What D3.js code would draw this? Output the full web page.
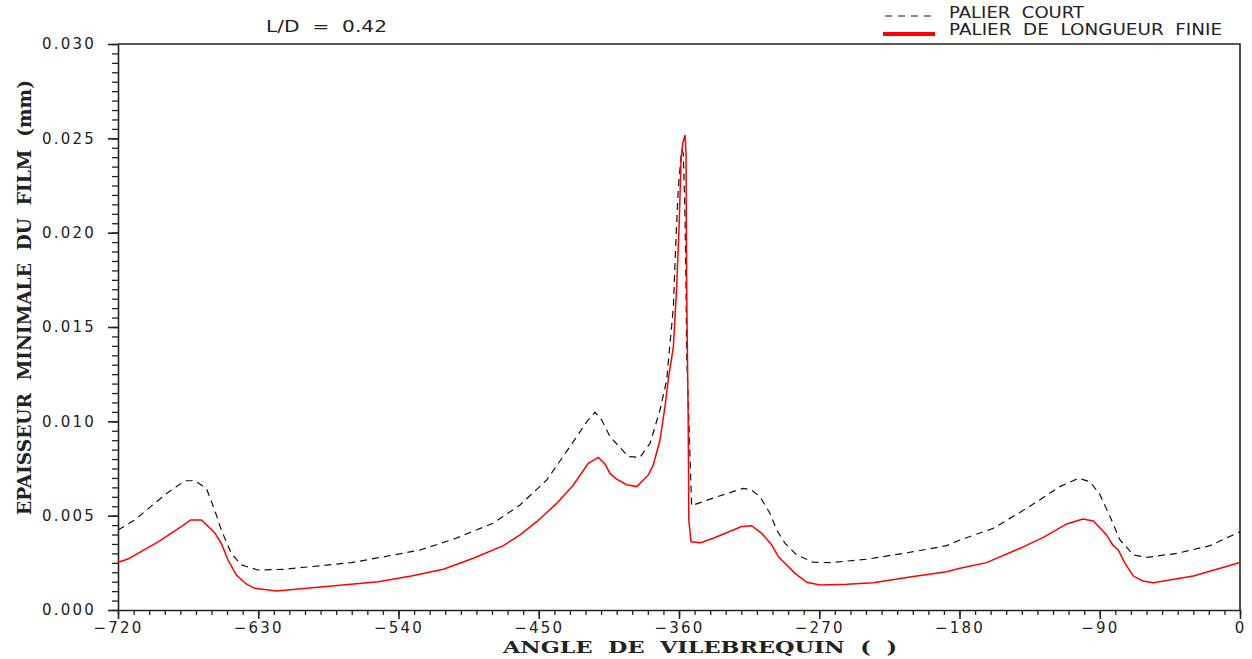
<!DOCTYPE html>
<html>
<head>
<meta charset="utf-8">
<script src="https://cdn.jsdelivr.net/npm/d3@7"></script>
<style>
  body { margin: 0; background: #fff; }
  svg { display: block; }
  .tick text { font-family: "DejaVu Sans", sans-serif; font-size: 15px; fill: #222; letter-spacing: 2.2px; }
  .domain, .tick line { stroke: #222; }
</style>
</head>
<body>
<svg></svg>
<script>
const size = {w: 1252, h: 659};
const margin = {t: 44, r: 12, b: 49, l: 118};
const svg = d3.select('svg').attr('width', size.w).attr('height', size.h);

// palier de longueur finie (red)
const angleFinie = [-720, -713.6, -694, -679.4, -673.4, -666.5, -658, -653.7, -649.4, -644,
  -637.7, -632.3, -618.4, -591.7, -553, -531.8, -511.2, -492, -472.7, -462, -451.3, -438.5,
  -427.8, -418.2, -411.8, -407.5, -404.3, -400, -393.6, -387.1, -379.7, -376.5, -372.2, -369,
  -366.9, -363.6, -361.5, -359.8, -358.7, -357.6, -356.1, -355.5, -355.1, -354.1, -353.7,
  -352.3, -346.1, -338, -319.8, -313.4, -306.9, -300.5, -296.3, -290.9, -285.5, -278, -269.5,
  -252.4, -235.3, -209.6, -188.2, -179.7, -162.6, -141.2, -126.2, -111.2, -100.9, -94.1,
  -85.6, -81.7, -78.1, -73.8, -68.4, -62.4, -55.6, -29.9, 0];
const hFinie = [0.00253, 0.0027, 0.00362, 0.00442, 0.00477, 0.00477, 0.0041, 0.00353, 0.00265, 0.00185,
  0.00138, 0.00115, 0.00101, 0.0012, 0.0015, 0.0018, 0.00216, 0.00274, 0.00341, 0.00398, 0.00468, 0.00565,
  0.00663, 0.00777, 0.00809, 0.00774, 0.00724, 0.00694, 0.00664, 0.00654, 0.00716, 0.00769, 0.00901, 0.01078,
  0.0122, 0.01396, 0.01714, 0.02067, 0.02385, 0.02474, 0.02518, 0.0242, 0.01714, 0.01007, 0.00477,
  0.00362, 0.00357, 0.0038, 0.00442, 0.00447, 0.00406, 0.00345, 0.00283, 0.00239, 0.00194, 0.00147, 0.00133,
  0.00136, 0.00145, 0.00177, 0.00203, 0.00221, 0.00251, 0.00327, 0.00385, 0.00456, 0.00482, 0.00472,
  0.00398, 0.00345, 0.00318, 0.00247, 0.0018, 0.00154, 0.00145, 0.0018, 0.00252];

// palier court (black dashed)
const angleCourt = [-720, -709.3, -690, -677.2, -670.8, -663.3, -658, -653.7, -647.3, -640.9,
  -630.2, -613, -570.3, -548.9, -526.2, -504.8, -479.2, -462, -444.9, -427.8, -419.2, -413.9,
  -409.6, -404.3, -392.5, -385, -378.6, -372.2, -367.9, -363.6, -361.9, -360.4, -358.3, -357.2,
  -356.1, -355.5, -355.1, -353, -351.9, -335.8, -318.7, -313.4, -308, -301.6, -297.3, -291.9,
  -284.5, -273.8, -263.1, -239.6, -209.6, -188.2, -179.7, -158.3, -136.9, -115.5, -103.7, -96.2,
  -89.8, -83.4, -77, -68.4, -59.8, -40.6, -19.2, 0];
const hCourt = [0.00424, 0.00477, 0.0061, 0.00685, 0.00685, 0.00645, 0.0053, 0.00424, 0.003, 0.00239,
  0.00212, 0.00216, 0.00251, 0.00283, 0.00318, 0.00375, 0.0046, 0.00557, 0.00689, 0.00892, 0.00998, 0.01048,
  0.01007, 0.00919, 0.00813, 0.00809, 0.00883, 0.0106, 0.01219, 0.01608, 0.01979, 0.02244, 0.02438, 0.0242,
  0.02067, 0.01714, 0.01361, 0.0083, 0.00553, 0.006, 0.00645, 0.00636, 0.006, 0.00512, 0.00424, 0.00353,
  0.00292, 0.00253, 0.00251, 0.00269, 0.00309, 0.00341, 0.00371, 0.00433, 0.00539, 0.00654, 0.00698, 0.0068,
  0.0061, 0.00495, 0.00371, 0.00292, 0.00279, 0.003, 0.00341, 0.00415];

const xMajor = [-720, -630, -540, -450, -360, -270, -180, -90, 0];
const yMajor = [0, 0.005, 0.010, 0.015, 0.020, 0.025, 0.030];

const x = d3.scaleLinear().domain([-720, 0]).range([margin.l, size.w - margin.r]);
const y = d3.scaleLinear().domain([0, 0.030]).range([size.h - margin.b, margin.t]);

// minor ticks every 10 deg and 0.0005 mm
const xMinor = d3.range(-720, 1, 10);
const yMinor = d3.range(0, 0.03001, 0.0005);

svg.append('g')
    .attr('transform', 'translate(0,' + y(0) + ')')
    .call(d3.axisBottom(x).tickValues(xMinor).tickSize(5).tickFormat(''))
    .call(g => g.select('.domain').remove())
    .selectAll('line').attr('stroke-width', 1.3);

svg.append('g')
    .attr('transform', 'translate(' + x(-720) + ',0)')
    .call(d3.axisLeft(y).tickValues(yMinor).tickSize(6).tickFormat(''))
    .call(g => g.select('.domain').remove())
    .selectAll('line').attr('stroke-width', 1.3);

const xAxis = svg.append('g')
    .attr('transform', 'translate(0,' + y(0) + ')')
    .call(d3.axisBottom(x).tickValues(xMajor).tickSize(9).tickSizeOuter(0).tickPadding(3)
        .tickFormat(d3.format('d')));
xAxis.select('.domain').attr('stroke-width', 1.6);
xAxis.selectAll('.tick line').attr('stroke-width', 1.6);

const yAxis = svg.append('g')
    .attr('transform', 'translate(' + x(-720) + ',0)')
    .call(d3.axisLeft(y).tickValues(yMajor).tickSize(10).tickSizeOuter(0).tickPadding(12)
        .tickFormat(d3.format('.3f')));
yAxis.select('.domain').attr('stroke-width', 1.6);
yAxis.selectAll('.tick line').attr('stroke-width', 1.6);

// top and right frame
svg.append('path')
    .attr('d', 'M' + x(-720) + ',' + y(0.030) + 'H' + x(0) + 'V' + y(0))
    .attr('fill', 'none').attr('stroke', '#222').attr('stroke-width', 1.6);

// curves
const line = d3.line().x(d => x(d[0])).y(d => y(d[1]));

svg.append('path')
    .datum(d3.zip(angleCourt, hCourt))
    .attr('d', line)
    .attr('fill', 'none')
    .attr('stroke', '#111')
    .attr('stroke-width', 1.2)
    .attr('stroke-dasharray', '7,5');

svg.append('path')
    .datum(d3.zip(angleFinie, hFinie))
    .attr('d', line)
    .attr('fill', 'none')
    .attr('stroke', '#ff0000')
    .attr('stroke-width', 1.5);

// texts
const sans = '"DejaVu Sans", sans-serif';
const serif = '"DejaVu Serif", serif';

svg.append('text')
    .attr('x', 266).attr('y', 32)
    .attr('textLength', 121).attr('lengthAdjust', 'spacingAndGlyphs')
    .style('font-family', sans).style('font-size', '15px').style('fill', '#222')
    .style('white-space', 'pre')
    .text('L/D  =  0.42');

// legend
const legend = svg.append('g');
legend.append('line')
    .attr('x1', 885).attr('x2', 934).attr('y1', 16).attr('y2', 16)
    .attr('stroke', '#111').attr('stroke-width', 1.2).attr('stroke-dasharray', '7,6');
legend.append('line')
    .attr('x1', 883).attr('x2', 935).attr('y1', 34).attr('y2', 34)
    .attr('stroke', '#ff0000').attr('stroke-width', 4);
legend.append('text')
    .attr('x', 949).attr('y', 17.5)
    .attr('textLength', 135).attr('lengthAdjust', 'spacingAndGlyphs')
    .style('font-family', sans).style('font-size', '15px').style('fill', '#222')
    .style('white-space', 'pre')
    .text('PALIER  COURT');
legend.append('text')
    .attr('x', 949).attr('y', 35)
    .attr('textLength', 273).attr('lengthAdjust', 'spacingAndGlyphs')
    .style('font-family', sans).style('font-size', '15px').style('fill', '#222')
    .style('white-space', 'pre')
    .text('PALIER  DE  LONGUEUR  FINIE');

// axis titles
svg.append('text')
    .attr('x', 503).attr('y', 653)
    .attr('textLength', 394).attr('lengthAdjust', 'spacingAndGlyphs')
    .style('font-family', serif).style('font-size', '17px').style('font-weight', 'bold')
    .style('fill', '#222').style('white-space', 'pre')
    .text('ANGLE  DE  VILEBREQUIN  (  )');

svg.append('text')
    .attr('transform', 'translate(31,515) rotate(-90)')
    .attr('textLength', 435).attr('lengthAdjust', 'spacingAndGlyphs')
    .style('font-family', serif).style('font-size', '19px').style('font-weight', 'bold')
    .style('fill', '#222').style('white-space', 'pre')
    .text('EPAISSEUR  MINIMALE  DU  FILM  (mm)');
</script>
</body>
</html>
